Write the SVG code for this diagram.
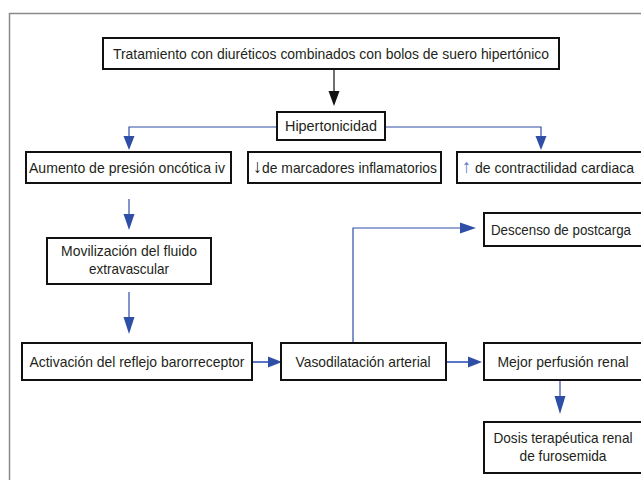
<svg xmlns="http://www.w3.org/2000/svg" width="641" height="480" viewBox="0 0 641 480">
<defs>
<style>
.frame{fill:none;stroke:#8a8a8a;stroke-width:1.5}
.box{fill:#fff;stroke:#111;stroke-width:2}
.t{font-family:"Liberation Sans",Arial,sans-serif;font-size:14.5px;fill:#231f20;text-anchor:middle}
.ts{font-family:"Liberation Sans",Arial,sans-serif;font-size:14.5px;fill:#231f20;text-anchor:start}
.ar{font-size:19px}
.bl{fill:none;stroke:#2f4fa6;stroke-width:1.2}
.bh{fill:#2f4fa6}
.k{fill:none;stroke:#111;stroke-width:1.2}
.kh{fill:#111}
</style>
</defs>
<rect width="641" height="480" fill="#fff"/>
<path class="frame" d="M9.5,480 V13.5 H641"/>

<g id="connectors">
<line class="k" x1="334" y1="69" x2="334" y2="93"/>
<polygon class="kh" points="328.5,91 339.5,91 334,106"/>
<path class="bl" d="M277,127 H129 V138"/>
<polygon class="bh" points="123.5,136 134.5,136 129,150"/>
<path class="bl" d="M385,127 H541 V138"/>
<polygon class="bh" points="535.5,136 546.5,136 541,150"/>
<line class="bl" x1="129" y1="199" x2="129" y2="216"/>
<polygon class="bh" points="123.5,214 134.5,214 129,230"/>
<line class="bl" x1="129" y1="292" x2="129" y2="319"/>
<polygon class="bh" points="123.5,317 134.5,317 129,334"/>
<line class="bl" x1="252" y1="362" x2="270" y2="362" style="stroke:#5b76c4;stroke-width:2"/>
<polygon class="bh" points="268,356.5 268,367.5 282,362"/>
<line class="bl" x1="446" y1="362" x2="470" y2="362" style="stroke:#5b76c4;stroke-width:2"/>
<polygon class="bh" points="468,356.5 468,367.5 482,362"/>
<path class="bl" d="M353,343 V228 H462"/>
<polygon class="bh" points="460,222.5 460,233.5 476,228"/>
<line class="bl" x1="560" y1="380" x2="560" y2="398"/>
<polygon class="bh" points="554.5,396 565.5,396 560,414"/>
</g>

<g id="n-tratamiento">
<rect class="box" x="103" y="38" width="456" height="31"/>
<text class="t" x="331" y="58.5" textLength="436" lengthAdjust="spacingAndGlyphs">Tratamiento con diuréticos combinados con bolos de suero hipertónico</text>
</g>
<g id="n-hipertonicidad">
<rect class="box" x="277" y="112" width="108" height="28"/>
<text class="t" x="331" y="131" textLength="92" lengthAdjust="spacingAndGlyphs">Hipertonicidad</text>
</g>
<g id="n-aumento">
<rect class="box" x="26" y="152" width="205" height="31"/>
<text class="t" x="127" y="172.5" textLength="196" lengthAdjust="spacingAndGlyphs">Aumento de presión oncótica iv</text>
</g>
<g id="n-marcadores">
<rect class="box" x="248" y="152" width="193" height="31"/>
<text class="ts" x="253" y="172.5" textLength="184" lengthAdjust="spacingAndGlyphs"><tspan class="ar">↓</tspan>de marcadores inflamatorios</text>
</g>
<g id="n-contractilidad">
<rect class="box" x="457" y="152" width="190" height="31"/>
<text class="ts" x="462" y="172.5" textLength="172" lengthAdjust="spacingAndGlyphs"><tspan class="ar" fill="#5b76c4">↑</tspan> de contractilidad cardiaca</text>
</g>
<g id="n-movilizacion">
<rect class="box" x="47" y="238" width="164" height="46"/>
<text class="t" x="129" y="256" textLength="136" lengthAdjust="spacingAndGlyphs">Movilización del fluido</text>
<text class="t" x="129" y="274" textLength="80" lengthAdjust="spacingAndGlyphs">extravascular</text>
</g>
<g id="n-descenso">
<rect class="box" x="484" y="213" width="165" height="33"/>
<text class="t" x="561" y="234.5" textLength="140" lengthAdjust="spacingAndGlyphs" style="font-size:13.8px">Descenso de postcarga</text>
</g>
<g id="n-activacion">
<rect class="box" x="22" y="343" width="230" height="37"/>
<text class="t" x="137" y="366.5" textLength="215" lengthAdjust="spacingAndGlyphs">Activación del reflejo barorreceptor</text>
</g>
<g id="n-vasodilatacion">
<rect class="box" x="281" y="343" width="165" height="37"/>
<text class="t" x="363" y="366.5" textLength="135" lengthAdjust="spacingAndGlyphs">Vasodilatación arterial</text>
</g>
<g id="n-mejor">
<rect class="box" x="484" y="343" width="165" height="37"/>
<text class="t" x="563" y="366.5" textLength="131" lengthAdjust="spacingAndGlyphs">Mejor perfusión renal</text>
</g>
<g id="n-dosis">
<rect class="box" x="484" y="422" width="165" height="51"/>
<text class="t" x="563" y="443" textLength="139" lengthAdjust="spacingAndGlyphs">Dosis terapéutica renal</text>
<text class="t" x="563" y="461" textLength="87" lengthAdjust="spacingAndGlyphs">de furosemida</text>
</g>
</svg>
